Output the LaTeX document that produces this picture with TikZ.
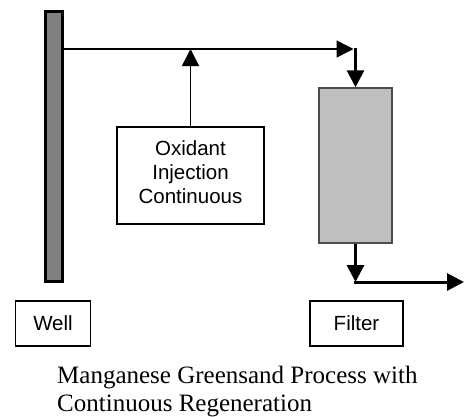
\documentclass[tikz,border=0pt]{standalone}
\usepackage{fontspec}
\setmainfont{Liberation Serif}
\newfontfamily\arialfont{Liberation Sans}
\usetikzlibrary{arrows.meta}

\tikzset{
  labelbox/.style={draw=black, line width=1.5pt, fill=white, inner sep=0pt,
    font=\arialfont\fontsize{20.5}{24}\selectfont, align=center},
  pipe/.style={draw=black, line width=1.5pt},
  thickpipe/.style={draw=black, line width=3pt},
  tip/.style={-{Triangle[length=17pt,width=17pt]}},
}

\begin{document}
\begin{tikzpicture}[x=1pt,y=-1pt]
  \useasboundingbox (0,0) rectangle (466,416);

  % well casing
  \node[draw=black, line width=3pt, fill=black!50, minimum width=17pt,
        minimum height=270pt, inner sep=0pt] (well) at (53.5,146) {};

  % oxidant feed box
  \node[labelbox, minimum width=147pt, minimum height=97pt, text depth=7pt]
    (ox) at (190.5,175.5) {Oxidant\\Injection\\Continuous};

  % greensand filter vessel
  \node[draw=black!70, line width=1.5pt, fill=black!25, minimum width=73pt,
        minimum height=155pt, inner sep=0pt] (filter) at (355.5,165.5) {};

  % labels
  \node[labelbox, minimum width=75pt, minimum height=45pt] (welllabel) at (53,323.5) {Well};
  \node[labelbox, minimum width=93pt, minimum height=45pt] (filterlabel) at (356.5,323.5) {Filter};

  % pipe routing points
  \coordinate (top) at (355.5,49);
  \coordinate (bend) at (355.5,282);
  \coordinate (out) at (464,282);

  % flow lines
  \draw[pipe, tip] (well.east |- top) -- ([xshift=-2pt]top);
  \draw[pipe, tip] (ox.north) -- (ox.north |- top);
  \draw[thickpipe, tip, line cap=rect] (top) -- (filter.north);
  \draw[thickpipe, tip] (filter.south) -- (bend);
  \draw[thickpipe, tip] ([xshift=-1.5pt]bend) -- (out);

  % caption
  \node[anchor=north west, inner sep=0pt, align=left,
        font=\fontsize{25}{28}\selectfont] (caption) at (57,366)
    {Manganese Greensand Process with\\Continuous Regeneration};
\end{tikzpicture}
\end{document}
